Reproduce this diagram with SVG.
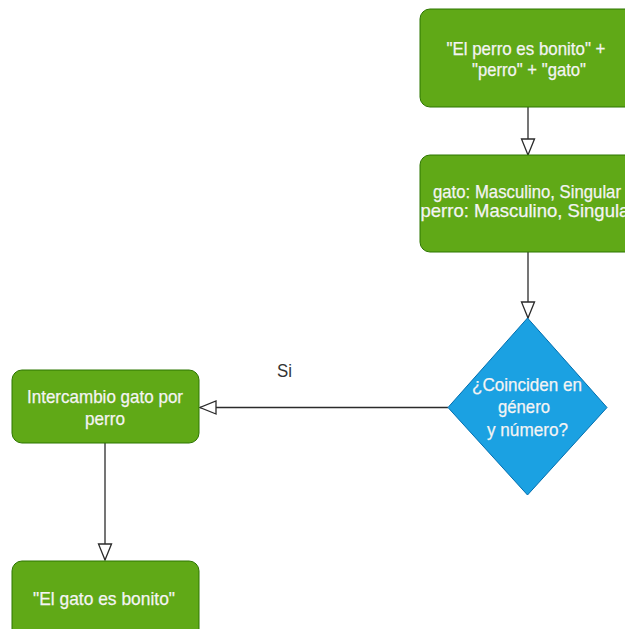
<svg xmlns="http://www.w3.org/2000/svg" width="625" height="629" viewBox="0 0 625 629">
  <style>
    .box { fill: #60a917; stroke: #2d7600; stroke-width: 1; }
    .decision { fill: #1ba1e2; stroke: #006eaf; stroke-width: 1; }
    .label { font-family: "Liberation Sans", Arial, sans-serif; font-size: 19px; fill: #f4f4f4; stroke: #f4f4f4; stroke-width: 0.25; text-anchor: middle; }
    .edge { fill: none; stroke: #2b2b2b; stroke-width: 1.3; marker-end: url(#open-arrow); }
    .edge-label { font-family: "Liberation Sans", Arial, sans-serif; font-size: 19px; fill: #333333; text-anchor: middle; }
  </style>
  <defs>
    <marker id="open-arrow" markerUnits="userSpaceOnUse" markerWidth="19" markerHeight="16" refX="17" refY="7.5" orient="auto" overflow="visible">
      <path d="M1,1 L17,7.5 L1,14 Z" fill="#ffffff" stroke="#2b2b2b" stroke-width="1.3" stroke-linejoin="miter"/>
    </marker>
  </defs>

  <rect width="625" height="629" fill="#ffffff"/>

  <!-- connectors -->
  <g id="connectors">
    <path class="edge" d="M528,107 L528,155"/>
    <path class="edge" d="M528,252 L528,318"/>
    <path class="edge" d="M448,407.5 L200,407.5"/>
    <text class="edge-label" x="284.5" y="377" textLength="15" lengthAdjust="spacingAndGlyphs">Si</text>
    <path class="edge" d="M105,443 L105,560"/>
  </g>

  <!-- input sentence and words -->
  <g id="node-input">
    <rect class="box" x="420" y="9" width="216" height="98" rx="10" ry="10"/>
    <text class="label" x="526" y="55" textLength="159" lengthAdjust="spacingAndGlyphs">"El perro es bonito" +</text>
    <text class="label" x="529" y="76" textLength="114" lengthAdjust="spacingAndGlyphs">"perro" + "gato"</text>
  </g>

  <!-- gender / number of each word -->
  <g id="node-attributes">
    <rect class="box" x="420" y="155" width="216" height="97" rx="10" ry="10"/>
    <text class="label" x="527" y="198" textLength="188" lengthAdjust="spacingAndGlyphs">gato: Masculino, Singular</text>
    <text class="label" x="528" y="217" textLength="215" lengthAdjust="spacingAndGlyphs">perro: Masculino, Singular</text>
  </g>

  <!-- agreement check -->
  <g id="node-decision">
    <polygon class="decision" points="527.5,318 607,407.5 527.5,495 448,407.5"/>
    <text class="label" x="527" y="391" textLength="110" lengthAdjust="spacingAndGlyphs">¿Coinciden en</text>
    <text class="label" x="524" y="413" textLength="52" lengthAdjust="spacingAndGlyphs">género</text>
    <text class="label" x="527.5" y="436" textLength="81" lengthAdjust="spacingAndGlyphs">y número?</text>
  </g>

  <!-- swap step -->
  <g id="node-swap">
    <rect class="box" x="12" y="370" width="187" height="73" rx="10" ry="10"/>
    <text class="label" x="105" y="403" textLength="156" lengthAdjust="spacingAndGlyphs">Intercambio gato por</text>
    <text class="label" x="105" y="425" textLength="40" lengthAdjust="spacingAndGlyphs">perro</text>
  </g>

  <!-- result -->
  <g id="node-result">
    <rect class="box" x="12" y="561" width="187" height="80" rx="10" ry="10"/>
    <text class="label" x="104" y="605" textLength="142" lengthAdjust="spacingAndGlyphs">"El gato es bonito"</text>
  </g>
</svg>
